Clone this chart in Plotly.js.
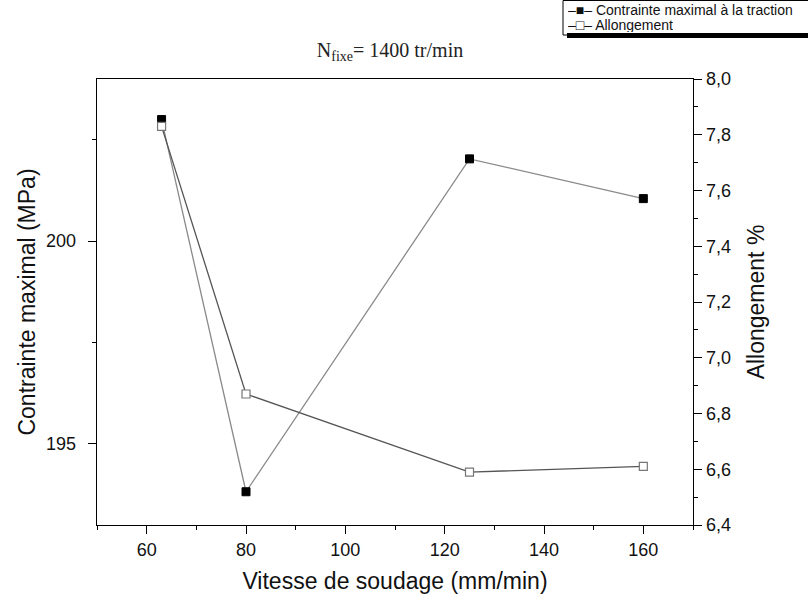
<!DOCTYPE html>
<html>
<head>
<meta charset="utf-8">
<script src="https://cdn.plot.ly/plotly-3.0.1.min.js"></script>
<style>html,body{margin:0;padding:0;background:#fff;}#chart{width:808px;height:598px;}</style>
</head>
<body>
<div id="chart"></div>
<script>
var vitesse = [63, 80, 125, 160];
var contrainte = [203.0, 193.82, 202.03, 201.05];
var allongement = [7.83, 6.87, 6.59, 6.61];
var seriesNames = ['Contrainte maximal à la traction', 'Allongement'];
var legendGlyphs = ['–■–', '–□–'];
var leftTicks = [195, 200];
var rightTicks = [6.4, 6.6, 6.8, 7.0, 7.2, 7.4, 7.6, 7.8, 8.0];
var rightTickText = ['6,4', '6,6', '6,8', '7,0', '7,2', '7,4', '7,6', '7,8', '8,0'];

var traces = [
  {
    x: vitesse, y: contrainte, name: seriesNames[0],
    type: 'scatter', mode: 'lines+markers', yaxis: 'y',
    line: {color: '#8a8a8a', width: 1.3},
    marker: {symbol: 'square', size: 8, color: '#000', line: {color: '#000', width: 1}}
  },
  {
    x: vitesse, y: allongement, name: seriesNames[1],
    type: 'scatter', mode: 'lines+markers', yaxis: 'y2',
    line: {color: '#555', width: 1.3},
    marker: {symbol: 'square', size: 8, color: '#fff', line: {color: '#777', width: 1.2}}
  }
];

var axFont = {family: 'Liberation Sans, Arial, sans-serif', size: 18, color: '#111'};
var titleFont = {family: 'Liberation Sans, Arial, sans-serif', size: 23, color: '#111'};
var legFont = {family: 'Liberation Sans, Arial, sans-serif', size: 14, color: '#111'};

// plot area in pixels: left 97, right 693, top 79, bottom 525
function px2x(px) { return (px - 97) / 596; }
function py2y(py) { return (525 - py) / 446; }

var layout = {
  width: 808, height: 598,
  paper_bgcolor: '#fff', plot_bgcolor: '#fff',
  margin: {l: 97, r: 115, t: 79, b: 73, autoexpand: false},
  showlegend: false,
  title: {
    text: 'N<sub>fixe</sub>= 1400 tr/min',
    font: {family: 'Liberation Serif, Times New Roman, serif', size: 20, color: '#222'},
    x: px2x(390), xref: 'paper', xanchor: 'center', y: 0.916, yanchor: 'middle'
  },
  xaxis: {
    range: [50, 170], tick0: 0, dtick: 20,
    ticks: 'outside', ticklen: 8, tickwidth: 1, tickcolor: '#000',
    minor: {dtick: 10, tick0: 0, ticks: 'outside', ticklen: 4, tickcolor: '#000'},
    showline: true, linecolor: '#000', linewidth: 1.3, mirror: true,
    showgrid: false, zeroline: false,
    tickfont: axFont,
    title: {text: 'Vitesse de soudage (mm/min)', font: titleFont, standoff: 14}
  },
  yaxis: {
    range: [193, 204], tickvals: leftTicks,
    ticks: 'outside', ticklen: 8, tickwidth: 1, tickcolor: '#000',
    minor: {dtick: 2.5, tick0: 0, ticks: 'outside', ticklen: 4, tickcolor: '#000'},
    showline: true, linecolor: '#000', linewidth: 1.3,
    showgrid: false, zeroline: false,
    tickfont: axFont, ticklabelstandoff: 8,
    title: {text: 'Contrainte maximal (MPa)', font: titleFont, standoff: 4}
  },
  yaxis2: {
    range: [6.4, 8.0], overlaying: 'y', side: 'right',
    tickvals: rightTicks, ticktext: rightTickText,
    ticks: 'outside', ticklen: 8, tickwidth: 1, tickcolor: '#000',
    minor: {dtick: 0.1, tick0: 0, ticks: 'outside', ticklen: 4, tickcolor: '#000'},
    showline: true, linecolor: '#000', linewidth: 1.3,
    showgrid: false, zeroline: false,
    tickfont: axFont,
    title: {text: 'Allongement %', font: titleFont, standoff: 18}
  },
  shapes: [
    {type: 'rect', xref: 'paper', yref: 'paper', x0: px2x(563), x1: px2x(815), y0: py2y(35), y1: py2y(0.5),
     fillcolor: '#fff', line: {color: '#000', width: 1}, layer: 'above'},
    {type: 'rect', xref: 'paper', yref: 'paper', x0: px2x(567), x1: px2x(815), y0: py2y(38), y1: py2y(33),
     fillcolor: '#000', line: {width: 0}, layer: 'above'}
  ],
  annotations: [
    {xref: 'paper', yref: 'paper', x: px2x(567), y: py2y(10.5), xanchor: 'left', yanchor: 'middle',
     height: 14, valign: 'middle', borderpad: 0,
     text: legendGlyphs[0] + ' ' + seriesNames[0], showarrow: false, font: legFont},
    {xref: 'paper', yref: 'paper', x: px2x(567), y: py2y(25), xanchor: 'left', yanchor: 'middle',
     height: 14, valign: 'middle', borderpad: 0,
     text: legendGlyphs[1] + ' ' + seriesNames[1], showarrow: false, font: legFont}
  ]
};

Plotly.newPlot('chart', traces, layout, {displayModeBar: false, staticPlot: true});
</script>
</body>
</html>
